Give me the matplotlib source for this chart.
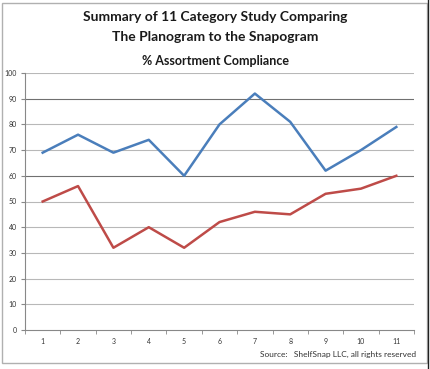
import matplotlib
matplotlib.use("Agg")
import matplotlib.pyplot as plt
from matplotlib.patches import Rectangle

# Data
categories = [1, 2, 3, 4, 5, 6, 7, 8, 9, 10, 11]
planogram = [69, 76, 69, 74, 60, 80, 92, 81, 62, 70, 79]
snapogram = [50, 56, 32, 40, 32, 42, 46, 45, 53, 55, 60]
yticks = list(range(0, 101, 10))

plt.rcParams['font.family'] = ['Lato', 'DejaVu Sans']

fig = plt.figure(figsize=(4.30, 3.69), dpi=100)
fig.patch.set_facecolor('white')

# outer frame
fig.patches.append(Rectangle((2 / 430, 1 - 363 / 369), 425 / 430, 360 / 369,
                             transform=fig.transFigure, fill=False,
                             edgecolor='#b0b0b0', linewidth=1.0))
fig.add_artist(plt.Line2D([428 / 430, 428 / 430], [0, 1], transform=fig.transFigure,
                          color='#202020', linewidth=1.0))

ax = fig.add_axes([25 / 430, 1 - 330 / 369, 389 / 430, 257 / 369])

ax.plot(categories, planogram, color='#4a7ebb', linewidth=1.8, zorder=3)
ax.plot(categories, snapogram, color='#be4b48', linewidth=1.8, zorder=3)

ax.set_xlim(0.5, 11.5)
ax.set_ylim(0, 100)
ax.set_yticks(yticks)
ax.set_yticklabels([str(v) for v in yticks], fontsize=5)
ax.set_xticks(categories)
ax.set_xticklabels([str(c) for c in categories], fontsize=5)
ax.tick_params(axis='x', length=0, pad=6, colors='#333333')
ax.tick_params(axis='y', length=3, pad=3, colors='#888888', labelcolor='#333333')

# boundary ticks between categories
ax.set_xticks([c + 0.5 for c in range(0, 12)], minor=True)
ax.tick_params(axis='x', which='minor', length=3, color='#888888')

for v in yticks[1:]:
    col = '#707070' if v in (60, 90) else '#b8b8b8'
    ax.axhline(v, color=col, linewidth=0.8, zorder=1)

for s in ['top', 'right']:
    ax.spines[s].set_visible(False)
ax.spines['left'].set_color('#888888')
ax.spines['bottom'].set_color('#888888')
ax.spines['left'].set_linewidth(0.8)
ax.spines['bottom'].set_linewidth(0.8)

fig.text(0.5, 1 - 17 / 369, 'Summary of 11 Category Study Comparing',
         ha='center', va='center', fontsize=10, fontweight='bold', color='#1a1a1a')
fig.text(0.5, 1 - 37 / 369, 'The Planogram to the Snapogram',
         ha='center', va='center', fontsize=10, fontweight='bold', color='#1a1a1a')
fig.text(0.5, 1 - 61 / 369, '% Assortment Compliance',
         ha='center', va='center', fontsize=9, fontweight='bold', color='#1a1a1a')
fig.text(416 / 430, 1 - 354 / 369, 'Source:   ShelfSnap LLC, all rights reserved',
         ha='right', va='center', fontsize=6, color='#333333')

fig.savefig('out.png', dpi=100, facecolor='white')
